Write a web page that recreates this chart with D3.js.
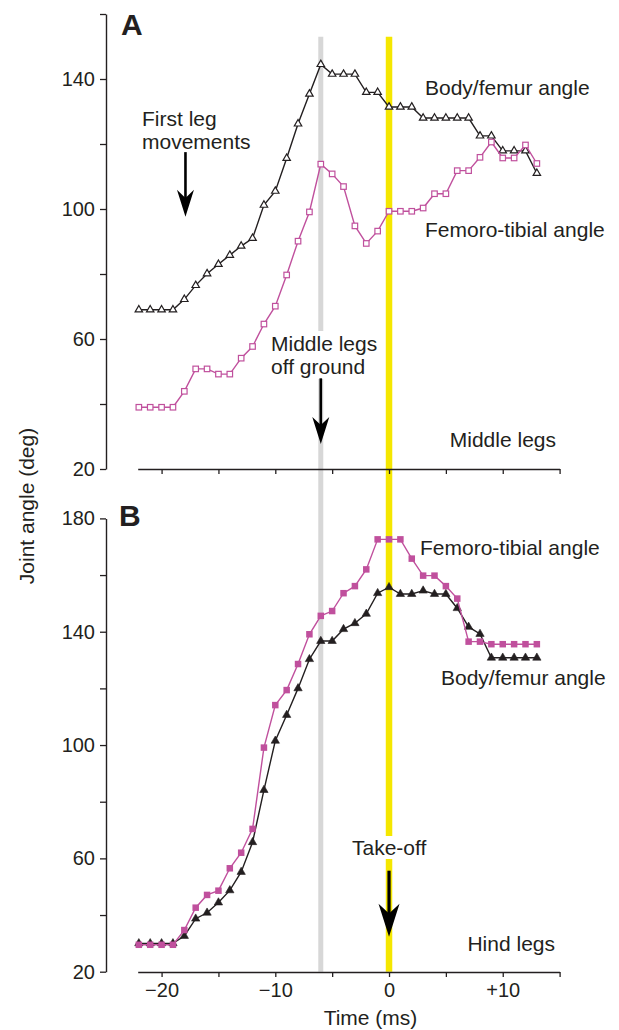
<!DOCTYPE html>
<html><head><meta charset="utf-8">
<script src="https://cdn.jsdelivr.net/npm/d3@7"></script>
<style>
body{margin:0;background:#fff}
text{font-family:"Liberation Sans",Arial,Helvetica,sans-serif;fill:#231f20}
</style></head><body>
<svg id="c" width="619" height="1030"></svg>
<script>
// ---- data ----
const time = [-22,-21,-20,-19,-18,-17,-16,-15,-14,-13,-12,-11,-10,-9,-8,-7,-6,-5,-4,-3,-2,-1,0,1,2,3,4,5,6,7,8,9,10,11,12,13];
const aBodyFemur = [69,69,69,69,72.2,76.5,80.1,83.0,85.8,88.6,91.0,101.2,105.5,115.6,126.2,135.4,144.5,141.5,141.5,141.5,135.9,135.9,131.4,131.4,131.4,128.0,128.0,128.0,128.0,128.0,122.5,122.5,117.9,117.9,117.9,111.0];
const aFemoroTibial = [39,39,39,39,43.9,50.8,50.8,49.2,49.2,54.1,57.7,64.6,70.1,79.7,90.1,99.1,113.8,110.8,106.9,94.8,89.4,93.2,99.3,99.3,99.3,100.3,104.7,104.7,111.8,111.8,115.9,120.6,115.7,115.7,119.7,114.0];
const bBodyFemur = [30,30,30,30,32.6,38.7,40.8,44.4,48.7,55.2,65.7,84.1,101.5,110.6,120.0,130.3,136.7,136.7,140.9,143.0,146.3,153.6,155.7,153.3,153.3,154.5,153.3,153.3,148.3,141.7,139.2,130.8,130.8,130.8,130.8,130.8];
const bFemoroTibial = [29.5,29.5,29.5,29.5,34.7,42.6,47.1,48.6,56.5,62.0,70.4,99.1,114.1,119.4,128.6,139.1,145.6,147.3,153.6,156.1,162.0,172.6,172.6,172.6,165.8,159.8,159.8,156.1,151.7,136.5,136.5,135.6,135.6,135.6,135.6,135.6];
const yTicksA = [20,40,60,80,100,120,140,160];
const yLabelsA = [20,60,100,140];
const yTicksB = [20,40,60,80,100,120,140,160,180];
const yLabelsB = [20,60,100,140,180];
const xTicks = [-20,-15,-10,-5,0,5,10,15];
const xLabels = [-20,-10,0,10];
const eventOffGround = -6;   // middle legs off ground
const eventTakeOff = 0;      // take-off

// ---- styles ----
const INK = "#231f20", MAG = "#c0509d", GREY = "#d7d7d7", YEL = "#f5e700";
const svg = d3.select("#c");

const x = d3.scaleLinear().domain([-22.1, 15]).range([137.7, 559.6]);
const yA = d3.scaleLinear().domain([20, 160]).range([469, 14]);
const yB = d3.scaleLinear().domain([20, 180]).range([971.7, 518.4]);

// event lines (continuous through both panels)
const gEv = svg.append("g");
[[eventOffGround, GREY, 5], [eventTakeOff, YEL, 6.5]].forEach(([t, c, w]) => {
  gEv.append("line").attr("x1", x(t)).attr("x2", x(t))
    .attr("y1", yA(153)).attr("y2", yB(20))
    .attr("stroke", c).attr("stroke-width", w);
});

// axes
function styleAxis(g, fs) {
  g.selectAll("path.domain").attr("stroke", INK).attr("stroke-width", 1.4);
  g.selectAll(".tick line").attr("stroke", INK).attr("stroke-width", 1.3);
  g.selectAll(".tick text").attr("fill", INK).style("font-size", fs + "px")
    .style("font-family", '"Liberation Sans",Arial,Helvetica,sans-serif');
}
const fmtX = d => xLabels.includes(d) ? (d === 0 ? "0" : d > 0 ? "+" + d : "\u2212" + Math.abs(d)) : "";

const axA = svg.append("g").attr("transform", "translate(106,0)")
  .call(d3.axisLeft(yA).tickValues(yTicksA).tickSize(6).tickSizeOuter(0).tickPadding(5)
    .tickFormat(d => yLabelsA.includes(d) ? d : ""));
styleAxis(axA, 20);
const axAx = svg.append("g").attr("transform", "translate(0,469)")
  .call(d3.axisBottom(x).tickValues(xTicks).tickSize(5).tickSizeOuter(0).tickFormat(""));
styleAxis(axAx, 20);
const axB = svg.append("g").attr("transform", "translate(106,0)")
  .call(d3.axisLeft(yB).tickValues(yTicksB).tickSize(6).tickSizeOuter(0).tickPadding(5)
    .tickFormat(d => yLabelsB.includes(d) ? d : ""));
styleAxis(axB, 20);
const axBx = svg.append("g").attr("transform", "translate(0,972)")
  .call(d3.axisBottom(x).tickValues(xTicks).tickSize(5).tickSizeOuter(0).tickPadding(6).tickFormat(fmtX));
styleAxis(axBx, 20);

// series
function series(vals, y, color, kind) {
  const pts = time.map((t, i) => [t, vals[i]]);
  const g = svg.append("g");
  g.append("path").datum(pts)
    .attr("d", d3.line().x(d => x(d[0])).y(d => y(d[1])))
    .attr("fill", "none").attr("stroke", color).attr("stroke-width", 1.4);
  if (kind === "triOpen" || kind === "triFill") {
    const sym = d3.symbol(d3.symbolTriangle, kind === "triOpen" ? 24 : 30);
    g.selectAll("path.m").data(pts).join("path").attr("class", "m")
      .attr("d", sym).attr("transform", d => `translate(${x(d[0])},${y(d[1])})`)
      .attr("fill", kind === "triOpen" ? "#fff" : color)
      .attr("stroke", color).attr("stroke-width", kind === "triOpen" ? 1.2 : 0.6);
  } else {
    const s = kind === "sqOpen" ? 5.5 : 6.5;
    g.selectAll("rect.m").data(pts).join("rect").attr("class", "m")
      .attr("x", d => x(d[0]) - s / 2).attr("y", d => y(d[1]) - s / 2)
      .attr("width", s).attr("height", s)
      .attr("fill", kind === "sqOpen" ? "#fff" : color)
      .attr("stroke", color).attr("stroke-width", kind === "sqOpen" ? 1.2 : 0);
  }
}
series(aBodyFemur, yA, INK, "triOpen");
series(aFemoroTibial, yA, MAG, "sqOpen");
series(bBodyFemur, yB, INK, "triFill");
series(bFemoroTibial, yB, MAG, "sqFill");

// annotations
const gAn = svg.append("g");
function label(txt, px, py, opts = {}) {
  return gAn.append("text").attr("x", px).attr("y", py).text(txt)
    .style("font-size", (opts.size || 21) + "px")
    .style("font-weight", opts.bold ? "bold" : "normal")
    .attr("text-anchor", opts.anchor || "start");
}
function knockout(nodes, pad) {
  let x0 = 1e9, y0 = 1e9, x1 = -1e9, y1 = -1e9;
  nodes.forEach(n => { const b = n.node().getBBox();
    x0 = Math.min(x0, b.x); y0 = Math.min(y0, b.y); x1 = Math.max(x1, b.x + b.width); y1 = Math.max(y1, b.y + b.height); });
  gAn.insert("rect", ":first-child").attr("x", x0 - pad).attr("y", y0 - pad)
    .attr("width", x1 - x0 + 2 * pad).attr("height", y1 - y0 + 2 * pad).attr("fill", "#fff");
}
function arrow(px, yTop, yTip, hl, hw, sw) {
  gAn.append("line").attr("x1", px).attr("x2", px).attr("y1", yTop).attr("y2", yTip - hl * 0.6)
    .attr("stroke", "#000").attr("stroke-width", sw);
  gAn.append("path").attr("d", `M${px},${yTip}L${px - hw},${yTip - hl}L${px},${yTip - hl * 0.7}L${px + hw},${yTip - hl}Z`)
    .attr("fill", "#000");
}

label("A", 121, 35, {size: 30, bold: true});
label("B", 119, 526, {size: 30, bold: true});
label("First leg", 142, 126);
label("movements", 142, 149);
arrow(x(-17.9), yA(117.5), yA(97.6), 27, 8.5, 2.6);
label("Body/femur angle", 425, 95);
label("Femoro-tibial angle", 425, 237);
const ml1 = label("Middle legs", 271, 351);
const ml2 = label("off ground", 271, 374);
knockout([ml1, ml2], 1);
arrow(x(eventOffGround), yA(47.9), yA(27.7), 27, 8.5, 2.6);
label("Middle legs", 556, 447, {anchor: "end"});

label("Femoro-tibial angle", 420, 555);
label("Body/femur angle", 441, 685);
const to = label("Take-off", 352, 855);
knockout([to], 0);
arrow(x(eventTakeOff), yB(55.65), yB(32.35), 33, 10.5, 3.2);
label("Hind legs", 555, 951, {anchor: "end"});

// axis titles
gAn.append("text").attr("transform", "translate(34,506) rotate(-90)")
  .attr("text-anchor", "middle").style("font-size", "21px").text("Joint angle (deg)");
gAn.append("text").attr("x", 370.5).attr("y", 1025)
  .attr("text-anchor", "middle").style("font-size", "21px").text("Time (ms)");
</script>
</body></html>
